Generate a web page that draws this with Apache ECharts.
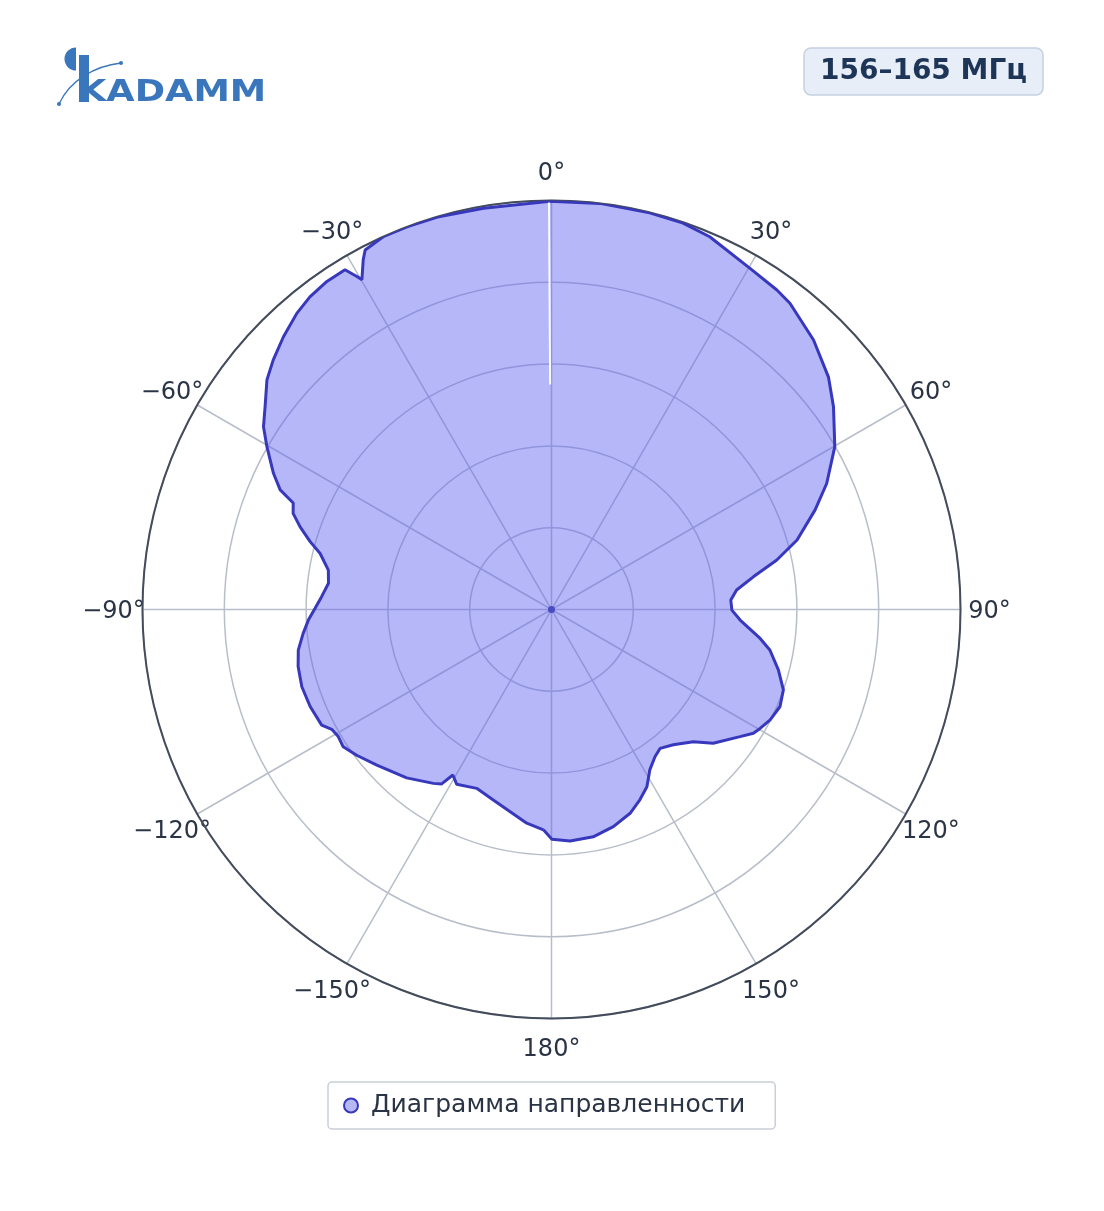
<!DOCTYPE html>
<html>
<head>
<meta charset="utf-8">
<script src="https://cdn.jsdelivr.net/npm/echarts@6/dist/echarts.min.js"></script>
<style>
html,body{margin:0;padding:0;background:#fff;}
#chart{width:1104px;height:1211px;}
</style>
</head>
<body>
<div id="chart"></div>
<script>
// Angles in degrees (0 = top, clockwise positive), normalized gain values
const angles = [
  -177.9, -173.4, -163.0, -157.3, -151.5, -149.2, -147.8, -145.8, -139.3, -131.7,
  -126.8, -123.4, -120.8, -118.6, -116.7, -111.9, -107.2, -102.7, -99.1, -95.5,
  -92.5, -89.7, -86.8, -83.3, -80.0, -76.4, -74.3, -71.8, -69.6, -67.6,
  -66.2, -63.9, -60.2, -57.6, -54.7, -51.1, -48.1, -44.5, -40.7, -37.7,
  -34.4, -31.3, -30.3, -29.9, -28.3, -27.4, -24.3, -20.6, -16.2, -9.6,
  -0.2, 6.8, 13.9, 18.8, 23.0, 30.2, 35.2, 37.9, 44.2, 50.0,
  54.3, 60.1, 65.4, 69.3, 74.2, 77.6, 80.8, 84.0, 87.0, 90.2,
  93.2, 97.9, 100.5, 104.9, 109.1, 113.0, 116.8, 120.2, 121.5, 124.0,
  129.6, 133.0, 138.0, 142.0, 144.9, 148.5, 151.7, 155.1, 158.9, 164.1,
  169.6, 175.4, 179.9
];
const gains = [
  0.539, 0.526, 0.487, 0.474, 0.486, 0.471, 0.504, 0.514, 0.543, 0.572,
  0.595, 0.610, 0.607, 0.612, 0.629, 0.636, 0.639, 0.635, 0.627, 0.610,
  0.595, 0.578, 0.563, 0.549, 0.554, 0.582, 0.613, 0.647, 0.674, 0.683,
  0.725, 0.757, 0.802, 0.834, 0.858, 0.894, 0.914, 0.935, 0.955, 0.966,
  0.972, 0.972, 0.943, 0.930, 0.971, 0.990, 1.000, 1.000, 0.999, 0.995,
  0.998, 1.000, 0.999, 0.998, 0.990, 0.965, 0.956, 0.949, 0.919, 0.884,
  0.849, 0.799, 0.740, 0.689, 0.624, 0.564, 0.500, 0.455, 0.439, 0.441,
  0.462, 0.515, 0.543, 0.574, 0.600, 0.607, 0.599, 0.585, 0.579, 0.556,
  0.513, 0.474, 0.445, 0.431, 0.440, 0.460, 0.492, 0.513, 0.534, 0.552,
  0.565, 0.568, 0.562
];
const angleTicks = [-180, -150, -120, -90, -60, -30, 0, 30, 60, 90, 120, 150, 180];
const seriesName = 'Диаграмма направленности';
const titleText = '156–165 МГц';
const logoText = 'KADAMM';

const pattern = angles.map((a, i) => [gains[i], a]);
pattern.push([gains[0], angles[0]]);

const FONT = 'DejaVu Sans';
const chart = echarts.init(document.getElementById('chart'), null, {renderer: 'canvas'});

function fmtAngle(v) {
  let s;
  if (v === -180 || v === 180) s = '180°';
  else if (v < 0) s = '\u2212' + (-v) + '°';
  else s = v + '°';
  return '{a|' + s + '}';
}

chart.setOption({
  backgroundColor: '#ffffff',
  animation: false,
  polar: {center: [551.5, 609.5], radius: 409},
  angleAxis: {
    type: 'value', min: -180, max: 180, interval: 30,
    startAngle: 270, clockwise: true,
    axisLine: {show: true, lineStyle: {color: '#444c5c', width: 2}},
    axisTick: {show: false},
    splitLine: {show: true, lineStyle: {color: '#b8bec9', width: 1.5}},
    axisLabel: {
      show: true, margin: 28, fontFamily: FONT, fontSize: 24, color: '#2a3444',
      formatter: fmtAngle,
      rich: {a: {width: 2, height: 2, lineHeight: 2, align: 'center', verticalAlign: 'middle',
        padding: [5, 0, 0, 0],
        fontFamily: FONT, fontSize: 24, color: '#2a3444'}}
    }
  },
  radiusAxis: {
    type: 'value', min: 0, max: 1, interval: 0.2,
    axisLine: {show: false}, axisTick: {show: false}, axisLabel: {show: false},
    splitLine: {show: true, lineStyle: {color: '#b8bec9', width: 1.5}}
  },
  legend: {
    left: 328, top: 1082,
    padding: [11, 30, 11, 15],
    borderColor: '#c9ced8', borderWidth: 1.5, borderRadius: 4,
    itemWidth: 14, itemHeight: 14, itemGap: 10,
    textStyle: {fontFamily: FONT, fontSize: 25, color: '#2a3444', padding: [0, 0, 0, 8]},
    data: [{name: seriesName, icon: 'circle',
      itemStyle: {color: '#b6b8f4', borderColor: '#3838bd', borderWidth: 2}}]
  },
  series: [
    {
      name: seriesName, type: 'line', coordinateSystem: 'polar',
      data: pattern, showSymbol: false, symbol: 'none', smooth: false,
      lineStyle: {color: '#3838bd', width: 3},
      itemStyle: {color: '#3838bd'},
      areaStyle: {color: 'rgba(99,102,241,0.47)', opacity: 1},
      z: 3
    },
    {
      name: 'seam', type: 'line', coordinateSystem: 'polar',
      data: [[0.55, -0.35], [0.995, -0.35]], symbol: 'none',
      lineStyle: {color: '#ffffff', width: 2, opacity: 0.95},
      silent: true, z: 4
    },
    {
      name: 'centre', type: 'scatter', coordinateSystem: 'polar',
      data: [[0, 0]], symbolSize: 7, itemStyle: {color: '#3838bd'},
      silent: true, z: 5
    }
  ],
  graphic: [
    // title badge
    {type: 'rect', shape: {x: 804, y: 48, width: 239, height: 47, r: 7},
      style: {fill: '#e8eef7', stroke: '#c5d0e1', lineWidth: 1.5}},
    {type: 'text', x: 923.5, y: 71.5,
      style: {text: titleText, fontFamily: FONT, fontWeight: 'bold', fontSize: 28,
        fill: '#1d3557', align: 'center', verticalAlign: 'middle'}},
    // logo
    {type: 'sector', shape: {cx: 76, cy: 59, r0: 0, r: 11.5,
        startAngle: Math.PI / 2, endAngle: Math.PI * 3 / 2, clockwise: true},
      style: {fill: '#3a76bb'}},
    {type: 'rect', shape: {x: 79, y: 55, width: 10, height: 47}, style: {fill: '#3a76bb'}},
    {type: 'group', x: 78, y: 108, scaleX: 1.22, scaleY: 1,
      children: [{type: 'text', x: 0, y: 0,
        style: {text: logoText, fontFamily: FONT, fontWeight: 'bold', fontSize: 30,
          fill: '#3a76bb', align: 'left', verticalAlign: 'bottom'}}]},
    {type: 'bezierCurve', shape: {x1: 59, y1: 104, x2: 121, y2: 63, cpx1: 70, cpy1: 80, cpx2: 95, cpy2: 66},
      style: {stroke: '#3a76bb', lineWidth: 1.3, fill: null}},
    {type: 'circle', shape: {cx: 59, cy: 104, r: 2}, style: {fill: '#3a76bb'}},
    {type: 'circle', shape: {cx: 121, cy: 63, r: 2}, style: {fill: '#3a76bb'}}
  ]
});
</script>
</body>
</html>
